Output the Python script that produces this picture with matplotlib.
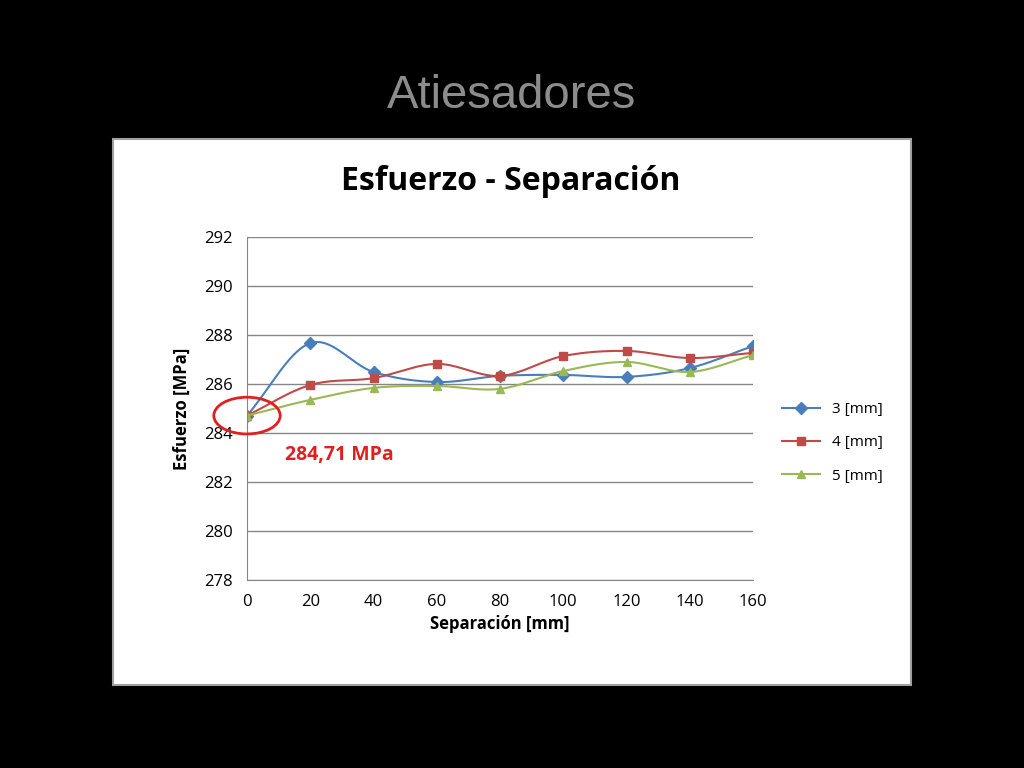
import numpy as np
import matplotlib.pyplot as plt
from matplotlib.patches import Rectangle, Ellipse

plt.rcParams['font.family'] = 'Open Sans'

# data
separacion = [0, 20, 40, 60, 80, 100, 120, 140, 160]
esf_3mm = [284.71, 287.67, 286.49, 286.08, 286.33, 286.37, 286.29, 286.65, 287.55]
esf_4mm = [284.71, 285.96, 286.24, 286.82, 286.33, 287.14, 287.35, 287.06, 287.27]
esf_5mm = [284.71, 285.35, 285.84, 285.92, 285.80, 286.53, 286.90, 286.49, 287.18]
labels = ['3 [mm]', '4 [mm]', '5 [mm]']
colors = ['#4a7ebb', '#be4b48', '#98b954']
markers = ['D', 's', '^']


def smooth(x, y, n=20):
    # catmull-rom curve through the points, similar to excel smoothed lines
    x = np.asarray(x, float); y = np.asarray(y, float)
    px = np.concatenate([[2*x[0]-x[1]], x, [2*x[-1]-x[-2]]])
    py = np.concatenate([[2*y[0]-y[1]], y, [2*y[-1]-y[-2]]])
    xs, ys = [], []
    t = np.linspace(0, 1, n)
    for i in range(1, len(px)-2):
        for p, out in ((px, xs), (py, ys)):
            p0, p1, p2, p3 = p[i-1], p[i], p[i+1], p[i+2]
            out.extend(0.5*((2*p1) + (-p0+p2)*t + (2*p0-5*p1+4*p2-p3)*t**2
                            + (-p0+3*p1-3*p2+p3)*t**3))
    return xs, ys


fig = plt.figure(figsize=(10.24, 7.68), dpi=100, facecolor='black')
fig.text(0.5, 0.875, 'Atiesadores', color='#8c8c8c', fontsize=34,
         ha='center', va='center', family='Liberation Sans')
fig.patches.append(Rectangle((113/1024, 1-685/768), 798/1024, 546/768,
                             transform=fig.transFigure, facecolor='white',
                             edgecolor='#a0a0a0', lw=1.5, zorder=0))
fig.text(511/1024, 1-182/768, 'Esfuerzo - Separación', fontsize=23,
         fontweight='bold', ha='center', va='center')

ax = fig.add_axes([247/1024, 1-580/768, 506/1024, 343/768])
ax.set_zorder(5)
for y, c, m in zip([esf_3mm, esf_4mm, esf_5mm], colors, markers):
    sx, sy = smooth(separacion, y)
    ax.plot(sx, sy, color=c, lw=1.5)
    ax.plot(separacion, y, m, color=c, ms=6)

handles = [plt.Line2D([], [], color=c, marker=m, lw=1.5, ms=6)
           for c, m in zip(colors, markers)]
ax.legend(handles, labels, loc='center left', bbox_to_anchor=(1.03, 0.4),
          frameon=False, fontsize=11, labelspacing=1.2, handlelength=2.5)

ax.set_xlim(0, 160)
ax.set_ylim(278, 292)
ax.set_xticks(separacion)
ax.set_yticks(range(278, 293, 2))
ax.grid(axis='y', color='#868686', lw=1)
ax.set_axisbelow(True)
for s in ['top', 'right']:
    ax.spines[s].set_visible(False)
ax.spines['left'].set_color('#868686')
ax.spines['bottom'].set_color('#868686')
ax.tick_params(length=0, labelsize=12, pad=10)
ax.set_xlabel('Separación [mm]', fontsize=12, fontweight='bold')
ax.set_ylabel('Esfuerzo [MPa]', fontsize=12, fontweight='bold', labelpad=10)

ax.add_patch(Ellipse((0, esf_3mm[0]), 21, 1.5, fill=False, edgecolor='#e02020',
                     lw=2, clip_on=False, zorder=5))
ax.text(12, 283.1, '284,71 MPa', color='#e02020', fontsize=14,
        fontweight='bold', va='center')

fig.savefig('out.png', dpi=100, facecolor='black')
